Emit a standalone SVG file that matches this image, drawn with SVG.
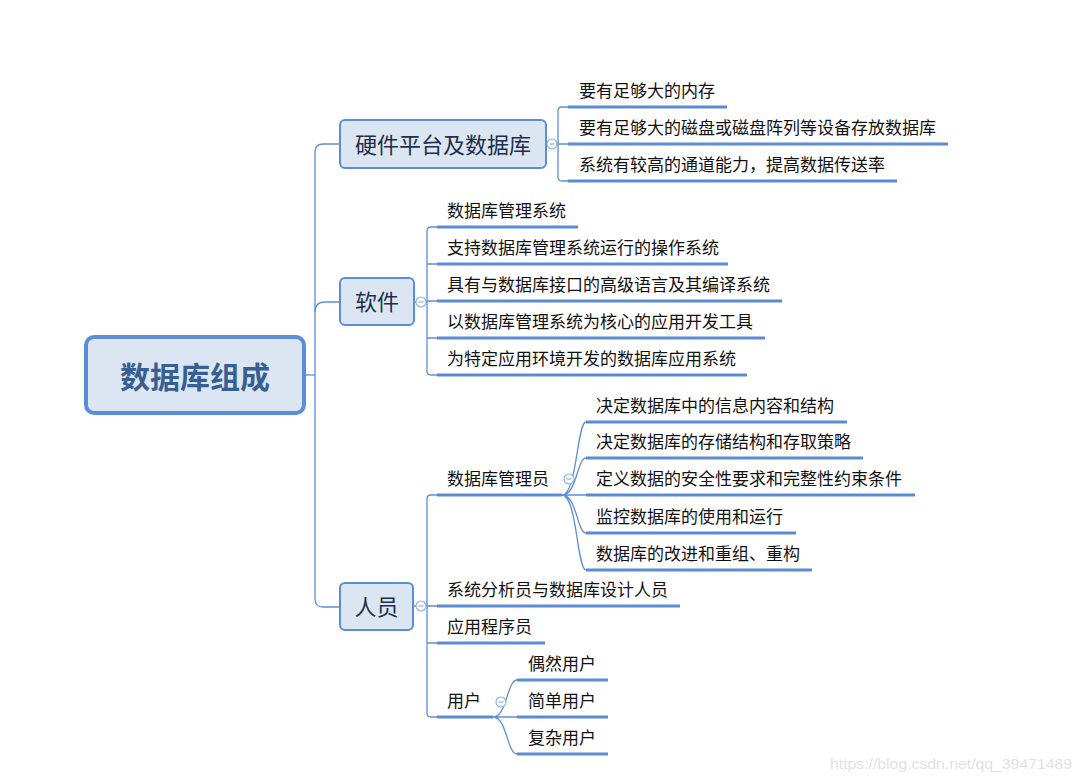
<svg xmlns="http://www.w3.org/2000/svg" width="1082" height="781" viewBox="0 0 1082 781">
<style>
.bg{fill:#ffffff}
.box{fill:#dce6f2;stroke:#5b8ed6;stroke-width:2}
.root{fill:#dce6f2;stroke:#5b8ed6;stroke-width:4}
.ln{fill:none;stroke:#5f8fd4;stroke-width:1.3}
.ul{fill:none;stroke:#5a8bd3;stroke-width:3}
.col{fill:#ffffff;stroke:#8fb0e0;stroke-width:1.2}
.t1{font-family:"Noto Sans CJK SC","Microsoft YaHei",sans-serif;font-size:22px;fill:#1f2e4c;text-anchor:middle}
.t0{font-family:"Noto Sans CJK SC","Microsoft YaHei",sans-serif;font-size:30px;font-weight:bold;fill:#375f91;text-anchor:middle}
.t2{font-family:"Noto Sans CJK SC","Microsoft YaHei",sans-serif;font-size:17px;fill:#111111}
.wm{font-family:"Liberation Sans",Arial,sans-serif;font-size:15.5px;fill:#e2e2e2}
</style>
<defs>
<g id="collapse"><circle r="5" class="col"/><line x1="-2.5" y1="0" x2="2.5" y2="0" stroke="#8fb0e0" stroke-width="1.2"/></g>
</defs>
<rect class="bg" x="0" y="0" width="1082" height="781"/>

<g id="connectors">
<path class="ln" d="M305 375 H315"/>
<path class="ln" d="M340 144 H323 Q315 144 315 152 V599 Q315 607 323 607 H340"/>
<path class="ln" d="M315 312 Q315 302 325 302 H340"/>
<path class="ln" d="M546 144 H547 M557 144 H568"/>
<path class="ln" d="M568 107 H562 Q558 107 558 111 V177 Q558 181 562 181 H568"/>
<path class="ln" d="M414 302 H416 M426 302 H427"/>
<path class="ln" d="M437 227 H431 Q427 227 427 231 V371 Q427 375 431 375 H437 M427 264 H437 M427 301 H437 M427 338 H437"/>
<path class="ln" d="M413 606 H416 M426 606 H427"/>
<path class="ln" d="M437 495 H431 Q427 495 427 499 V713 Q427 717 431 717 H437 M427 606 H437 M427 643 H437"/>
<path class="ln" d="M562 495 C577 495 577 422 586 422 M562 495 C577 495 577 458 586 458 M562 495 H586 M562 495 C577 495 577 533 586 533 M562 495 C577 495 577 570 586 570"/>
<path class="ln" d="M493 717 C507 717 507 680 517 680 M493 717 H517 M493 717 C507 717 507 754 517 754"/>
</g>

<g id="root">
<rect class="root" x="86" y="337" width="218" height="76" rx="8"/>
<text class="t0" x="195" y="388">数据库组成</text>
</g>

<g id="hardware">
<rect class="box" x="340" y="120" width="206" height="48" rx="5"/>
<text class="t1" x="443" y="153">硬件平台及数据库</text>
<use href="#collapse" x="552" y="144"/>
</g>
<g id="hw1"><text class="t2" x="579" y="97">要有足够大的内存</text><path class="ul" d="M568 107 H727"/></g>
<g id="hw2"><text class="t2" x="579" y="134">要有足够大的磁盘或磁盘阵列等设备存放数据库</text><path class="ul" d="M568 144 H948"/></g>
<g id="hw3"><text class="t2" x="579" y="171">系统有较高的通道能力，提高数据传送率</text><path class="ul" d="M568 181 H897"/></g>

<g id="software">
<rect class="box" x="340" y="278" width="74" height="47" rx="5"/>
<text class="t1" x="377" y="310">软件</text>
<use href="#collapse" x="421" y="302"/>
</g>
<g id="sw1"><text class="t2" x="447" y="217">数据库管理系统</text><path class="ul" d="M437 227 H578"/></g>
<g id="sw2"><text class="t2" x="447" y="254">支持数据库管理系统运行的操作系统</text><path class="ul" d="M437 264 H728"/></g>
<g id="sw3"><text class="t2" x="447" y="291">具有与数据库接口的高级语言及其编译系统</text><path class="ul" d="M437 301 H782"/></g>
<g id="sw4"><text class="t2" x="447" y="328">以数据库管理系统为核心的应用开发工具</text><path class="ul" d="M437 338 H765"/></g>
<g id="sw5"><text class="t2" x="447" y="365">为特定应用环境开发的数据库应用系统</text><path class="ul" d="M437 375 H747"/></g>

<g id="people">
<rect class="box" x="340" y="583" width="73" height="47" rx="5"/>
<text class="t1" x="376.5" y="615">人员</text>
<use href="#collapse" x="421" y="606"/>
</g>
<g id="dba"><text class="t2" x="447" y="485">数据库管理员</text><path class="ul" d="M437 495 H562"/><use href="#collapse" x="569" y="479"/></g>
<g id="dba1"><text class="t2" x="596" y="412">决定数据库中的信息内容和结构</text><path class="ul" d="M586 422 H847"/></g>
<g id="dba2"><text class="t2" x="596" y="448">决定数据库的存储结构和存取策略</text><path class="ul" d="M586 458 H863"/></g>
<g id="dba3"><text class="t2" x="596" y="485">定义数据的安全性要求和完整性约束条件</text><path class="ul" d="M586 495 H915"/></g>
<g id="dba4"><text class="t2" x="596" y="523">监控数据库的使用和运行</text><path class="ul" d="M586 533 H796"/></g>
<g id="dba5"><text class="t2" x="596" y="560">数据库的改进和重组、重构</text><path class="ul" d="M586 570 H812"/></g>
<g id="analyst"><text class="t2" x="447" y="596">系统分析员与数据库设计人员</text><path class="ul" d="M437 606 H680"/></g>
<g id="programmer"><text class="t2" x="447" y="633">应用程序员</text><path class="ul" d="M437 643 H545"/></g>
<g id="user"><text class="t2" x="447" y="707">用户</text><path class="ul" d="M437 717 H493"/><use href="#collapse" x="501" y="702"/></g>
<g id="user1"><text class="t2" x="528" y="670">偶然用户</text><path class="ul" d="M517 680 H608"/></g>
<g id="user2"><text class="t2" x="528" y="707">简单用户</text><path class="ul" d="M517 717 H608"/></g>
<g id="user3"><text class="t2" x="528" y="744">复杂用户</text><path class="ul" d="M517 754 H608"/></g>

<text class="wm" x="830" y="769" textLength="242" lengthAdjust="spacingAndGlyphs">https://blog.csdn.net/qq_39471489</text>
</svg>
